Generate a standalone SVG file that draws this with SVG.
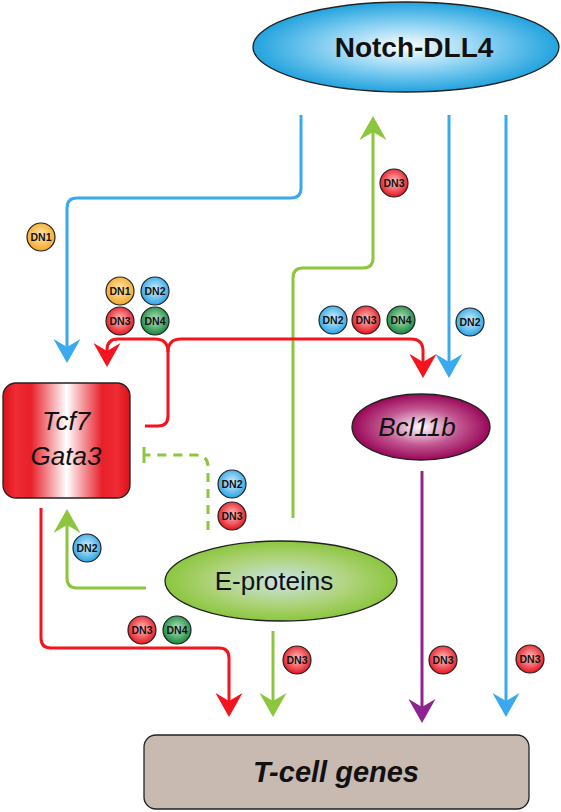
<svg xmlns="http://www.w3.org/2000/svg" width="561" height="812" viewBox="0 0 561 812">
<style>
.ln{fill:none;stroke-width:3;stroke-linecap:butt;stroke-linejoin:round}
.blue{stroke:#3aa9ef}
.red{stroke:#f5141e}
.green{stroke:#8cc63f}
.purple{stroke:#8e2490}
.dash{stroke-dasharray:9 7}
.node{stroke:#222;stroke-width:1.3}
.lbl{font-family:"Liberation Sans",Arial,sans-serif;fill:#111;text-anchor:middle}
.b circle{stroke:#222;stroke-width:1.2}
.b text{font-family:"Liberation Sans",Arial,sans-serif;font-weight:bold;font-size:10.5px;fill:#111;text-anchor:middle}
.dn1 circle{fill:url(#gO)}
.dn2 circle{fill:url(#gB)}
.dn3 circle{fill:url(#gR)}
.dn4 circle{fill:url(#gG)}
</style>
<defs>
<radialGradient id="gO" cx="50%" cy="45%" r="55%"><stop offset="0" stop-color="#ffe9b8"/><stop offset="1" stop-color="#f5a623"/></radialGradient>
<radialGradient id="gB" cx="50%" cy="45%" r="55%"><stop offset="0" stop-color="#d8f1fd"/><stop offset="1" stop-color="#29a3e3"/></radialGradient>
<radialGradient id="gR" cx="50%" cy="45%" r="55%"><stop offset="0" stop-color="#ffc4c4"/><stop offset="1" stop-color="#e5141e"/></radialGradient>
<radialGradient id="gG" cx="50%" cy="45%" r="55%"><stop offset="0" stop-color="#b9e5c4"/><stop offset="1" stop-color="#14873b"/></radialGradient>
<radialGradient id="gNotch" cx="50%" cy="50%" r="50%"><stop offset="0" stop-color="#ffffff"/><stop offset="0.5" stop-color="#8fd3f4"/><stop offset="1" stop-color="#22a3de"/></radialGradient>
<radialGradient id="gBcl" cx="50%" cy="50%" r="50%"><stop offset="0" stop-color="#ffffff"/><stop offset="0.55" stop-color="#c25792"/><stop offset="1" stop-color="#990757"/></radialGradient>
<radialGradient id="gE" cx="50%" cy="50%" r="50%"><stop offset="0" stop-color="#c9e2e6"/><stop offset="0.6" stop-color="#aed37a"/><stop offset="1" stop-color="#8cc63f"/></radialGradient>
<linearGradient id="gTcf" x1="0" y1="0" x2="1" y2="0"><stop offset="0" stop-color="#d9121c"/><stop offset="0.1" stop-color="#ef2b33"/><stop offset="0.22" stop-color="#e8202a"/><stop offset="0.5" stop-color="#ffffff"/><stop offset="0.78" stop-color="#e8202a"/><stop offset="0.9" stop-color="#ef2b33"/><stop offset="1" stop-color="#d9121c"/></linearGradient>
<marker id="aB" markerUnits="userSpaceOnUse" viewBox="0 0 24 27" markerWidth="24" markerHeight="27" refX="15" refY="13.5" orient="auto"><path d="M0,0 L24,13.5 L0,27 L8,13.5 Z" fill="#3aa9ef"/></marker>
<marker id="aR" markerUnits="userSpaceOnUse" viewBox="0 0 24 27" markerWidth="24" markerHeight="27" refX="15" refY="13.5" orient="auto"><path d="M0,0 L24,13.5 L0,27 L8,13.5 Z" fill="#f5141e"/></marker>
<marker id="aG" markerUnits="userSpaceOnUse" viewBox="0 0 24 27" markerWidth="24" markerHeight="27" refX="15" refY="13.5" orient="auto"><path d="M0,0 L24,13.5 L0,27 L8,13.5 Z" fill="#8cc63f"/></marker>
<marker id="aP" markerUnits="userSpaceOnUse" viewBox="0 0 24 27" markerWidth="24" markerHeight="27" refX="15" refY="13.5" orient="auto"><path d="M0,0 L24,13.5 L0,27 L8,13.5 Z" fill="#8e2490"/></marker>
</defs>
<rect width="561" height="812" fill="#ffffff"/>

<g id="connectors">
<path class="ln blue" d="M301,115 V188 Q301,198 291,198 H77 Q67,198 67,208 V354" marker-end="url(#aB)"/>
<path class="ln blue" d="M449,115 V369" marker-end="url(#aB)"/>
<path class="ln blue" d="M506,115 V708" marker-end="url(#aB)"/>
<path class="ln green" d="M293,518 V278 Q293,268 303,268 H363 Q373,268 373,258 V125" marker-end="url(#aG)"/>
<path class="ln green" d="M146,588 H77 Q67,588 67,578 V518" marker-end="url(#aG)"/>
<path class="ln green" d="M273,631 V708" marker-end="url(#aG)"/>
<path class="ln green dash" d="M208,530 V467 Q208,455 196,455 H145"/>
<path class="ln green" d="M144,447 V463"/>
<path class="ln red" d="M145,426 H158 Q168,426 168,416 V352"/>
<path class="ln red" d="M168,352 Q168,339 181,339 H411 Q423,339 423,351 V369" marker-end="url(#aR)"/>
<path class="ln red" d="M168,352 Q168,339 155,339 H118 Q107,339 107,350 V358" marker-end="url(#aR)"/>
<path class="ln red" d="M41,508 V638 Q41,648 51,648 H219 Q229,648 229,658 V708" marker-end="url(#aR)"/>
<path class="ln purple" d="M422,471 V714" marker-end="url(#aP)"/>
</g>

<g id="notch">
<ellipse class="node" cx="406" cy="47" rx="153" ry="45" fill="url(#gNotch)"/>
<text class="lbl" x="414" y="57" font-size="28" font-weight="bold">Notch-DLL4</text>
</g>
<g id="tcf7gata3">
<rect class="node" x="3" y="383" width="127" height="115" rx="13" fill="url(#gTcf)"/>
<text class="lbl" x="66" y="430" font-size="26" font-style="italic">Tcf7</text>
<text class="lbl" x="66" y="465" font-size="26" font-style="italic">Gata3</text>
</g>
<g id="bcl11b">
<ellipse class="node" cx="421" cy="427" rx="69" ry="33" fill="url(#gBcl)"/>
<text class="lbl" x="417" y="436" font-size="26" font-style="italic">Bcl11b</text>
</g>
<g id="eproteins">
<ellipse class="node" cx="281" cy="581" rx="116" ry="40" fill="url(#gE)"/>
<text class="lbl" x="274" y="590" font-size="26">E-proteins</text>
</g>
<g id="tcellgenes">
<rect class="node" x="144" y="735" width="385" height="74" rx="12" fill="#c8bab1"/>
<text class="lbl" x="336" y="782" font-size="29" font-weight="bold" font-style="italic">T-cell genes</text>
</g>

<g id="badges">
<g class="b dn1"><circle cx="41" cy="237" r="14"/><text x="41" y="240.7">DN1</text></g>
<g class="b dn1"><circle cx="120" cy="291" r="14"/><text x="120" y="294.7">DN1</text></g>
<g class="b dn2"><circle cx="155" cy="291" r="14"/><text x="155" y="294.7">DN2</text></g>
<g class="b dn3"><circle cx="120" cy="321" r="14"/><text x="120" y="324.7">DN3</text></g>
<g class="b dn4"><circle cx="155" cy="321" r="14"/><text x="155" y="324.7">DN4</text></g>
<g class="b dn3"><circle cx="394" cy="183" r="14"/><text x="394" y="186.7">DN3</text></g>
<g class="b dn2"><circle cx="333" cy="320" r="14"/><text x="333" y="323.7">DN2</text></g>
<g class="b dn3"><circle cx="366" cy="320" r="14"/><text x="366" y="323.7">DN3</text></g>
<g class="b dn4"><circle cx="401" cy="320" r="14"/><text x="401" y="323.7">DN4</text></g>
<g class="b dn2"><circle cx="470" cy="322" r="14"/><text x="470" y="325.7">DN2</text></g>
<g class="b dn2"><circle cx="232" cy="484" r="14"/><text x="232" y="487.7">DN2</text></g>
<g class="b dn3"><circle cx="232" cy="516" r="14"/><text x="232" y="519.7">DN3</text></g>
<g class="b dn2"><circle cx="87" cy="548" r="14"/><text x="87" y="551.7">DN2</text></g>
<g class="b dn3"><circle cx="142" cy="630" r="14"/><text x="142" y="633.7">DN3</text></g>
<g class="b dn4"><circle cx="177" cy="630" r="14"/><text x="177" y="633.7">DN4</text></g>
<g class="b dn3"><circle cx="297" cy="660" r="14"/><text x="297" y="663.7">DN3</text></g>
<g class="b dn3"><circle cx="443" cy="660" r="14"/><text x="443" y="663.7">DN3</text></g>
<g class="b dn3"><circle cx="530" cy="659" r="14"/><text x="530" y="662.7">DN3</text></g>
</g>
</svg>
